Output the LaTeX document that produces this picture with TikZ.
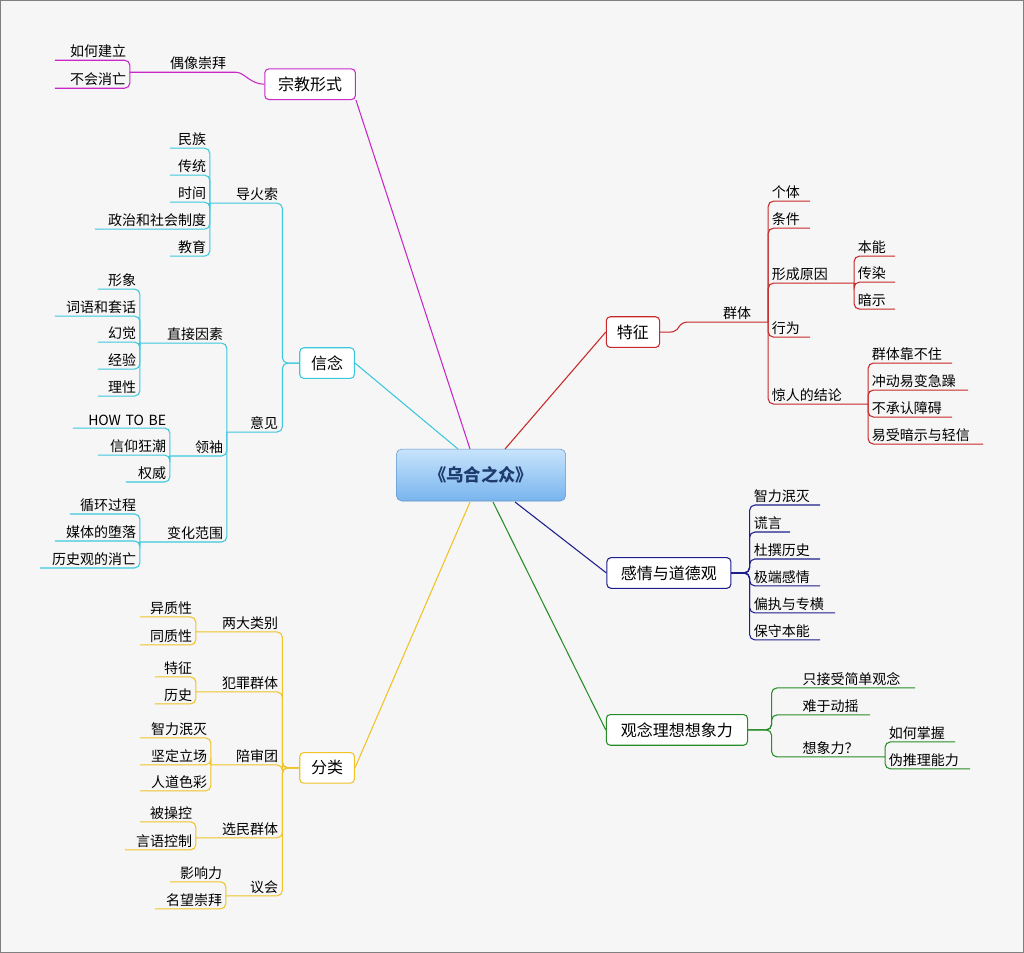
\documentclass[tikz,border=0pt]{standalone}
\usepackage{fontspec}
\setmainfont{Noto Sans CJK SC}
\definecolor{cMag}{RGB}{200,40,200}
\definecolor{cCya}{RGB}{60,200,220}
\definecolor{cYel}{RGB}{240,195,40}
\definecolor{cRed}{RGB}{200,40,40}
\definecolor{cNav}{RGB}{30,30,140}
\definecolor{cGrn}{RGB}{40,140,40}
\definecolor{bgc}{RGB}{246,246,246}
\newcommand\ndl[5]{\pgfmathsetmacro\ww{(#3-#2)*0.75-6}\node[lf,text width=\ww pt,align=right] (#1) at ({(#2+#3)/2},#4) {#5};}
\newcommand\ndr[5]{\pgfmathsetmacro\ww{(#3-#2)*0.75-6}\node[lf,text width=\ww pt,align=left] (#1) at ({(#2+#3)/2},#4) {#5};}
\begin{document}
\begin{tikzpicture}[x=0.75pt,y=-0.75pt,
 lf/.style={anchor=south,inner xsep=3pt,inner ysep=1.5pt,font=\fontsize{10.5}{12}\selectfont},
 bx/.style={draw=#1,rounded corners=3pt,fill=white,line width=0.8pt,minimum height=23pt,font=\fontsize{12}{14}\selectfont,inner xsep=6pt},
 c/.style={draw=#1,line width=0.8pt,rounded corners=4pt}]
\path[fill=bgc,draw=gray] (0,0) rectangle (1024,952);
% center
\node[draw={rgb,255:red,100;green,150;blue,200},rounded corners=4pt,top color={rgb,255:red,200;green,228;blue,252},bottom color={rgb,255:red,120;green,180;blue,238},minimum width=127pt,minimum height=39pt,font=\fontsize{13}{15}\selectfont\bfseries,text={rgb,255:red,30;green,60;blue,110}] (ctr) at (481,475) {《乌合之众》};
% boxes
\node[bx=cMag,minimum width=68pt] (zj) at (310,84) {宗教形式};
\node[bx=cCya,minimum width=41pt] (xn) at (327,363) {信念};
\node[bx=cYel,minimum width=41pt] (fl) at (327,768) {分类};
\node[bx=cRed,minimum width=40pt] (tz) at (633,332) {特征};
\node[bx=cNav,minimum width=93pt] (gq) at (669,573) {感情与道德观};
\node[bx=cGrn,minimum width=106pt] (gn) at (677,730) {观念理想想象力};
\draw[cMag,line width=0.8pt] (470,449) -- (zj.south east);
\draw[cCya,line width=0.8pt] (458,449) -- (xn.east);
\draw[cYel,line width=0.8pt] (470,502) -- (fl.east);
\draw[cRed,line width=0.8pt] (505,449) -- (tz.west);
\draw[cNav,line width=0.8pt] (515,502) -- (gq.west);
\draw[cGrn,line width=0.8pt] (493,502) -- (gn.west);
% 宗教形式
\ndl{oxcb}{130}{230}{72}{偶像崇拜}
\draw[c=cMag] (zj.west) to[out=180,in=0] (oxcb.south east) -- (oxcb.south west);
\ndl{rhjl}{55}{130}{60}{如何建立}
\ndl{bhxw}{55}{130}{88}{不会消亡}
\foreach \n in {rhjl,bhxw} \draw[c=cMag] (oxcb.south west) |- (\n.south west);
% 信念
\ndl{dhs}{210}{282}{203}{导火索}
\ndl{yj}{227}{282}{432}{意见}
\foreach \n in {dhs,yj} \draw[c=cCya] (xn.west) -- (xn.west -| \n.south east) |- (\n.south west);
\ndl{mz}{170}{210}{148}{民族}
\ndl{ct}{170}{210}{175}{传统}
\ndl{sj}{170}{210}{202}{时间}
\ndl{zz}{95}{210}{229}{政治和社会制度}
\ndl{jy}{170}{210}{256}{教育}
\foreach \n in {mz,ct,sj,zz,jy} \draw[c=cCya] (dhs.south west) |- (\n.south west);
\ndl{zjys}{140}{227}{343}{直接因素}
\ndl{lx}{170}{227}{456}{领袖}
\ndl{bhfw}{140}{227}{542}{变化范围}
\foreach \n in {zjys,lx,bhfw} \draw[c=cCya] (yj.south west) |- (\n.south west);
\ndl{xx}{98}{140}{289}{形象}
\ndl{cy}{55}{140}{316}{词语和套话}
\ndl{hj}{98}{140}{342}{幻觉}
\ndl{jyan}{98}{140}{369}{经验}
\ndl{lix}{98}{140}{396}{理性}
\foreach \n in {xx,cy,hj,jyan,lix} \draw[c=cCya] (zjys.south west) |- (\n.south west);
\ndl{how}{73}{170}{428}{HOW TO BE}
\ndl{xykc}{98}{170}{455}{信仰狂潮}
\ndl{qw}{126}{170}{482}{权威}
\foreach \n in {how,xykc,qw} \draw[c=cCya] (lx.south west) |- (\n.south west);
\ndl{xhgc}{70}{140}{514}{循环过程}
\ndl{mtdl}{55}{140}{541}{媒体的堕落}
\ndl{lsg}{40}{140}{568}{历史观的消亡}
\foreach \n in {xhgc,mtdl,lsg} \draw[c=cCya] (bhfw.south west) |- (\n.south west);
% 分类
\ndl{ldlb}{196}{282}{632}{两大类别}
\ndl{fzqt}{196}{282}{692}{犯罪群体}
\ndl{pst}{211}{282}{765}{陪审团}
\ndl{xmqt}{196}{282}{838}{选民群体}
\ndl{yh}{226}{282}{896}{议会}
\foreach \n in {ldlb,fzqt,pst,xmqt,yh} \draw[c=cYel] (fl.west) -- (fl.west -| \n.south east) |- (\n.south west);
\ndl{yzx}{140}{196}{617}{异质性}
\ndl{tzx}{140}{196}{645}{同质性}
\foreach \n in {yzx,tzx} \draw[c=cYel] (ldlb.south west) |- (\n.south west);
\ndl{fz1}{155}{196}{677}{特征}
\ndl{fz2}{155}{196}{704}{历史}
\foreach \n in {fz1,fz2} \draw[c=cYel] (fzqt.south west) |- (\n.south west);
\ndl{zlmm}{140}{211}{738}{智力泯灭}
\ndl{jdlc}{140}{211}{765}{坚定立场}
\ndl{rdsc}{140}{211}{791}{人道色彩}
\foreach \n in {zlmm,jdlc,rdsc} \draw[c=cYel] (pst.south west) |- (\n.south west);
\ndl{bck}{140}{196}{822}{被操控}
\ndl{yykz}{125}{196}{850}{言语控制}
\foreach \n in {bck,yykz} \draw[c=cYel] (xmqt.south west) |- (\n.south west);
\ndl{yxl}{170}{226}{882}{影响力}
\ndl{mwcb}{155}{226}{909}{名望崇拜}
\foreach \n in {yxl,mwcb} \draw[c=cYel] (yh.south west) |- (\n.south west);
% 特征
\ndr{qt}{682}{768}{322}{\hspace*{28pt}群体}
\draw[c=cRed] (tz.east) -- (676,332) -- (qt.south west) -- (qt.south east);
\ndr{gt}{768}{810}{201}{个体}
\ndr{tj}{768}{810}{228}{条件}
\ndr{xcyy}{768}{854}{283}{形成原因}
\ndr{xw}{768}{810}{337}{行为}
\ndr{jrdjl}{768}{868}{404}{惊人的结论}
\foreach \n in {gt,tj,xcyy,xw,jrdjl} \draw[c=cRed] (qt.south east) |- (\n.south east);
\ndr{bn}{854}{895}{256}{本能}
\ndr{cr}{854}{895}{282}{传染}
\ndr{as}{854}{895}{309}{暗示}
\foreach \n in {bn,cr,as} \draw[c=cRed] (xcyy.south east) |- (\n.south east);
\ndr{q1}{868}{952}{363}{群体靠不住}
\ndr{q2}{868}{968}{390}{冲动易变急躁}
\ndr{q3}{868}{952}{417}{不承认障碍}
\ndr{q4}{868}{983}{444}{易受暗示与轻信}
\foreach \n in {q1,q2,q3,q4} \draw[c=cRed] (jrdjl.south east) |- (\n.south east);
% 感情与道德观
\ndr{g1}{750}{820}{505}{智力泯灭}
\ndr{g2}{750}{790}{532}{谎言}
\ndr{g3}{750}{820}{559}{杜撰历史}
\ndr{g4}{750}{820}{586}{极端感情}
\ndr{g5}{750}{835}{613}{偏执与专横}
\ndr{g6}{750}{820}{640}{保守本能}
\foreach \n in {g1,g2,g3,g4,g5,g6} \draw[c=cNav] (gq.east) -- (gq.east -| \n.south west) |- (\n.south east);
% 观念理想想象力
\ndr{n1}{772}{915}{688}{\hspace*{20pt}只接受简单观念}
\ndr{n2}{772}{870}{715}{\hspace*{20pt}难于动摇}
\ndr{n3}{772}{885}{757}{\hspace*{20pt}想象力？}
\foreach \n in {n1,n2,n3} \draw[c=cGrn] (gn.east) -- (gn.east -| \n.south west) |- (\n.south east);
\ndr{n4}{885}{955}{742}{如何掌握}
\ndr{n5}{885}{970}{769}{伪推理能力}
\foreach \n in {n4,n5} \draw[c=cGrn] (n3.south east) |- (\n.south east);
\end{tikzpicture}
\end{document}
